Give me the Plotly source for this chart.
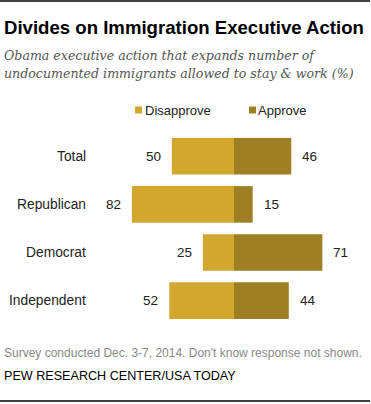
import plotly.graph_objects as go

categories = ["Total", "Republican", "Democrat", "Independent"]
disapprove = [50, 82, 25, 52]
approve = [46, 15, 71, 44]
series_names = ["Disapprove", "Approve"]

title = "Divides on Immigration Executive Action"
subtitle_lines = ["Obama executive action that expands number of",
                  "undocumented immigrants allowed to stay & work (%)"]
note = "Survey conducted Dec. 3-7, 2014. Don't know response not shown."
source = "PEW RESEARCH CENTER/USA TODAY"

C_DIS = "#D2A730"
C_APP = "#9E7F24"
W, H = 371, 404
SANS = "Liberation Sans, Arial, sans-serif"


def py(p):
    return 1 - p / H


fig = go.Figure()
fig.add_trace(go.Bar(y=categories, x=[-v for v in disapprove], orientation="h",
                     marker=dict(color=C_DIS, line=dict(width=0)), name=series_names[0],
                     width=0.76, hoverinfo="skip"))
fig.add_trace(go.Bar(y=categories, x=approve, orientation="h",
                     marker=dict(color=C_APP, line=dict(width=0)), name=series_names[1],
                     width=0.76, hoverinfo="skip"))

ann = []
for c, d, a in zip(categories, disapprove, approve):
    ann.append(dict(x=-d, y=c, xref="x", yref="y", text=str(d), showarrow=False,
                    xanchor="right", xshift=-9, font=dict(size=13.5, color="#222", family=SANS)))
    ann.append(dict(x=a, y=c, xref="x", yref="y", text=str(a), showarrow=False,
                    xanchor="left", xshift=9, font=dict(size=13.5, color="#222", family=SANS)))
    ann.append(dict(x=88 / W, y=c, xref="paper", yref="y", text=c, showarrow=False,
                    xanchor="right", font=dict(size=13.8, color="#222", family=SANS)))

ann.append(dict(x=2 / W, y=py(27), xref="paper", yref="paper", text="<b>" + title + "</b>",
                showarrow=False, xanchor="left", yanchor="middle",
                font=dict(size=18.6, color="#000", family=SANS)))
for i, line in enumerate(subtitle_lines):
    ann.append(dict(x=2 / W, y=py(55 + 19 * i), xref="paper", yref="paper",
                    text="<i>" + line + "</i>", showarrow=False, xanchor="left", yanchor="middle",
                    font=dict(size=12.6, color="#555", family="DejaVu Serif, serif")))

# legend
leg = [(135, 145, series_names[0], C_DIS), (249, 258, series_names[1], C_APP)]
shapes = []
for sx, tx, name, col in leg:
    shapes.append(dict(type="rect", xref="paper", yref="paper", x0=sx / W, x1=(sx + 7) / W,
                       y0=py(113.5), y1=py(106.5), fillcolor=col, line=dict(width=0)))
    ann.append(dict(x=tx / W, y=py(110), xref="paper", yref="paper", text=name, showarrow=False,
                    xanchor="left", yanchor="middle", xshift=-2,
                    font=dict(size=13, color="#222", family=SANS)))

ann.append(dict(x=2 / W, y=py(353), xref="paper", yref="paper", text=note, showarrow=False,
                xanchor="left", yanchor="middle", font=dict(size=12, color="#888", family=SANS)))
ann.append(dict(x=2 / W, y=py(376), xref="paper", yref="paper", text=source, showarrow=False,
                xanchor="left", yanchor="middle",
                font=dict(size=12.6, color="#000", family=SANS)))

shapes.append(dict(type="line", xref="paper", yref="paper", x0=0, x1=370 / W, y0=py(1), y1=py(1),
                   line=dict(color="#000", width=1.5)))
shapes.append(dict(type="line", xref="paper", yref="paper", x0=0, x1=370 / W, y0=py(401), y1=py(401),
                   line=dict(color="#000", width=1.5)))

cx, scale = 234, 1.245
y0, step = 156.3, 48.1
fig.update_layout(
    width=W, height=H, margin=dict(l=0, r=0, t=0, b=0),
    paper_bgcolor="white", plot_bgcolor="white",
    barmode="relative", showlegend=False,
    xaxis=dict(range=[-cx / scale, (W - cx) / scale], visible=False, fixedrange=True),
    yaxis=dict(type="category", categoryorder="array", categoryarray=categories,
               range=[(H - y0) / step, -y0 / step], visible=False, fixedrange=True),
    annotations=ann, shapes=shapes,
)
fig.write_html("out.html", config={"displayModeBar": False},
               post_script=("document.body.style.margin='0';document.body.style.padding='0';"
                            "document.body.style.overflow='hidden';"
                            "document.documentElement.style.overflow='hidden';"))
